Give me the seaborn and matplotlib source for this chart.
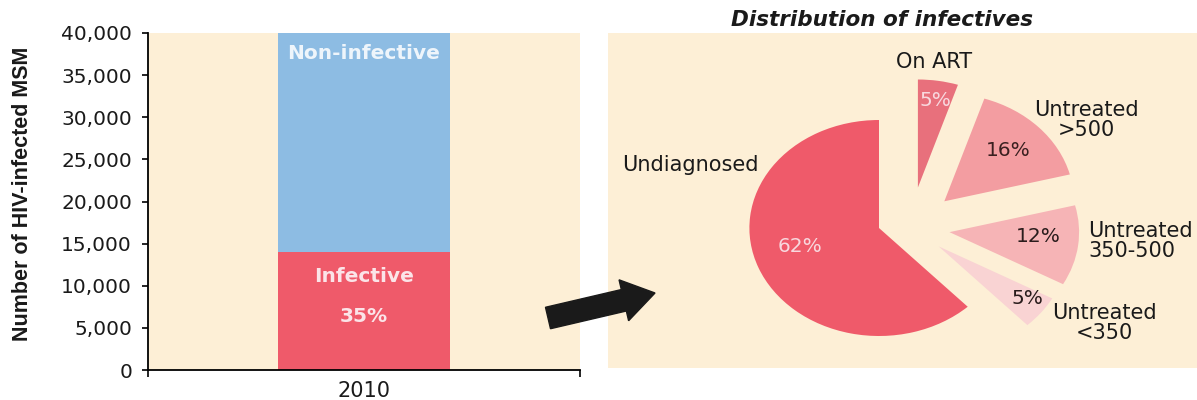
import matplotlib
matplotlib.use("Agg")
import matplotlib.pyplot as plt
from matplotlib.patches import FancyArrow
from matplotlib.transforms import IdentityTransform
from matplotlib.ticker import FuncFormatter, FixedLocator
import pandas as pd
import seaborn as sns

# bar chart data
years = ["2010"]
total_hiv = [40000]
infective = [14000]
infective_share = "35%"

# pie data (counter-clockwise from 12 o'clock)
main_group = "Undiagnosed"
main_share = 62
groups = ["Untreated\n<350", "Untreated\n350-500", "Untreated\n>500", "On ART"]
shares = [5, 12, 16, 5]

CREAM = "#FDEFD6"
RED = "#EF5A6A"
BLUE = "#8DBCE3"
wedge_colors = ["#F9D3D3", "#F6B4B6", "#F39DA1", "#E8707C"]
INK = "#1A1A1A"

sns.set_theme(style="white")
plt.rcParams["font.family"] = ["DejaVu Sans"]

fig = plt.figure(figsize=(11.97, 4.0), dpi=100)
W, H = 1197, 400

# ---- left: stacked bar ----
ax = fig.add_axes([148 / W, 1 - 370 / H, 432 / W, 337 / H])
ax.set_facecolor(CREAM)
bars = pd.DataFrame({"year": years, "total": total_hiv, "infective": infective})
sns.barplot(data=bars, x="year", y="total", color=BLUE, width=0.4, saturation=1,
            linewidth=0, ax=ax)
sns.barplot(data=bars, x="year", y="infective", color=RED, width=0.4, saturation=1,
            linewidth=0, ax=ax)
ax.set_xlim(-0.5, 0.5)
ax.set_ylim(0, 40000)
ax.yaxis.set_major_locator(FixedLocator(range(0, 40001, 5000)))
ax.yaxis.set_major_formatter(FuncFormatter(lambda v, p: f"{int(v):,}"))
ax.tick_params(axis="y", direction="out", length=4.5, width=1.2, color="black",
               labelsize=14.5, pad=7, left=True, labelcolor=INK)
ax.tick_params(axis="x", length=0, labelsize=15, pad=8, labelcolor=INK)
ax.set_xticks([-0.5, 0.5], minor=True)
ax.tick_params(axis="x", which="minor", direction="out", length=5, width=1.2,
               color="black", bottom=True)
ax.set_xlabel("")
ax.set_ylabel("Number of HIV-infected MSM", fontsize=15.5, fontweight="bold",
              family="Liberation Sans", color=INK)
ax.yaxis.set_label_coords(-0.266, 0.524)
for s in ["top", "right"]:
    ax.spines[s].set_visible(False)
for s in ["left", "bottom"]:
    ax.spines[s].set_color("black")
    ax.spines[s].set_linewidth(1.3)

ax.text(0, total_hiv[0] - 2400, "Non-infective", ha="center", va="center",
        color="#EEF5FB", fontsize=14.5, fontweight="bold")
ax.text(0, infective[0] - 2900, "Infective", ha="center", va="center",
        color="#FBE4E8", fontsize=14.5, fontweight="bold")
ax.text(0, infective[0] - 7600, infective_share, ha="center", va="center",
        color="#FBE4E8", fontsize=14.5, fontweight="bold")

# ---- arrow between panels (display pixels) ----
fig.patches.append(FancyArrow(548, 400 - 318, 107, 25, width=22, head_width=42,
                              head_length=32, length_includes_head=True,
                              color=INK, transform=IdentityTransform(),
                              figure=fig))

# ---- right: pie (slightly wider than tall, as in the source slide) ----
STRETCH = 1.2
pax = fig.add_axes([608 / W, 1 - 368 / H, 589 / W, 335 / H])
pax.set_facecolor(CREAM)


def px(x, y):
    # figure pixel -> pie-panel data units
    return (x - 608) / STRETCH, 368 - y


cx, cy = px(879, 228)
pax.pie([main_share / 100], colors=[RED], startangle=90, counterclock=True,
        normalize=False, radius=108, center=(cx, cy), frame=True,
        wedgeprops=dict(linewidth=0))
pax.pie([v / 100 for v in shares], colors=wedge_colors,
        startangle=90 + main_share * 3.6, counterclock=True, normalize=False,
        explode=[30, 33, 39, 41], radius=108, center=(cx + 26, cy), frame=True,
        wedgeprops=dict(linewidth=0))
pax.set_xlim(0, 589 / STRETCH)
pax.set_ylim(0, 335)
pax.set_aspect("auto")
pax.set_xticks([])
pax.set_yticks([])
for s in pax.spines.values():
    s.set_visible(False)

pax.text(*px(800, 247), f"{main_share}%", ha="center", va="center",
         fontsize=14.5, color="#F8D8DE")
pax.text(*px(690, 165), main_group, ha="center", va="center", fontsize=15,
         color=INK)

pct_pos = [(1027, 298), (1038, 237), (1008, 150), (935, 100)]
pct_cols = ["#2A1C1C", "#2A1C1C", "#3A2020", "#F8D8DE"]
for v, pos, col in zip(shares, pct_pos, pct_cols):
    pax.text(*px(*pos), f"{v}%", ha="center", va="center", fontsize=14.5, color=col)

name_pos = [(1104, 323), (1088, 241), (1086, 120), (934, 62)]
name_ha = ["center", "left", "center", "center"]
for lab, pos, ha in zip(groups, name_pos, name_ha):
    pax.text(*px(*pos), lab, ha=ha, va="center", fontsize=15, color=INK,
             linespacing=0.95)

fig.text(882 / W, 1 - 20 / H, "Distribution of infectives", ha="center", va="center",
         fontsize=15.5, fontweight="bold", fontstyle="italic", color=INK)

fig.savefig("out.png", dpi=100, facecolor="white")
